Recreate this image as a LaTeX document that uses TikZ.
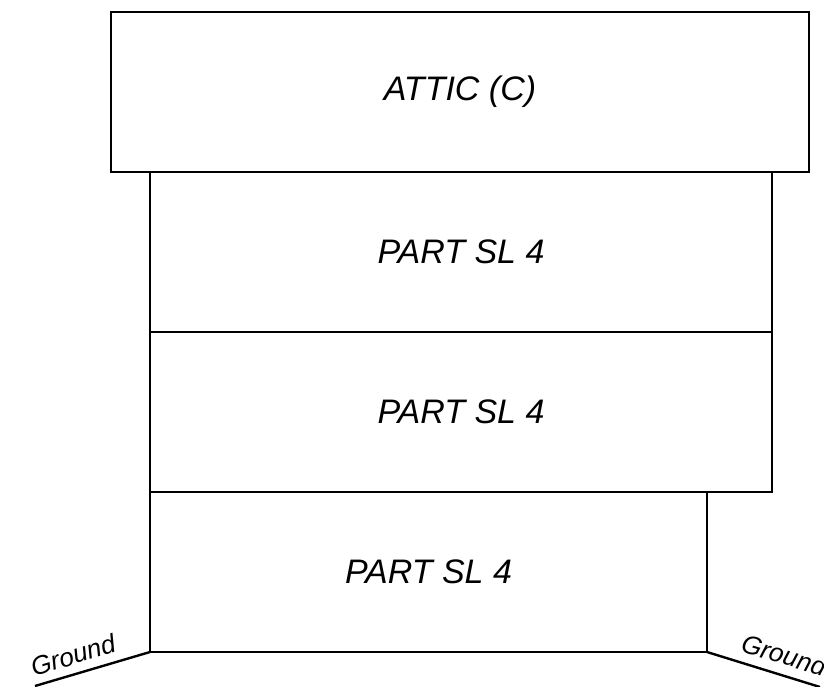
\documentclass[tikz,border=0pt]{standalone}
\usepackage{fontspec}
\setmainfont{Liberation Sans}
\begin{document}
\begin{tikzpicture}[x=1pt,y=-1pt,
  floorbox/.style={draw,line width=2.4pt,rectangle,inner sep=0pt,outer sep=0pt,
    minimum height=160pt,font=\fontsize{34}{40}\selectfont\itshape},
  groundlbl/.style={font=\fontsize{26}{30}\selectfont\itshape,inner sep=0pt},
  groundline/.style={line width=2.4pt}]
\useasboundingbox (0,0) rectangle (824,686);
\node[floorbox,minimum width=698pt] (attic) at (460,92) {ATTIC (C)};
\node[floorbox,minimum width=622pt] (f3) at (461,252) {PART SL 4};
\node[floorbox,minimum width=622pt] (f2) at (461,412) {PART SL 4};
\node[floorbox,minimum width=557pt] (f1) at (428.5,572) {PART SL 4};
\coordinate (gl) at (35,686);
\coordinate (gr) at (820,687);
\draw[groundline] (f1.south west) -- (gl);
\draw[groundline] (f1.south east) -- (gr);
\node[groundlbl,rotate=16.5] (glabel) at (73,655) {Ground};
\node[groundlbl,rotate=-16.5] (grlabel) at (784,655) {Ground};
\end{tikzpicture}
\end{document}
